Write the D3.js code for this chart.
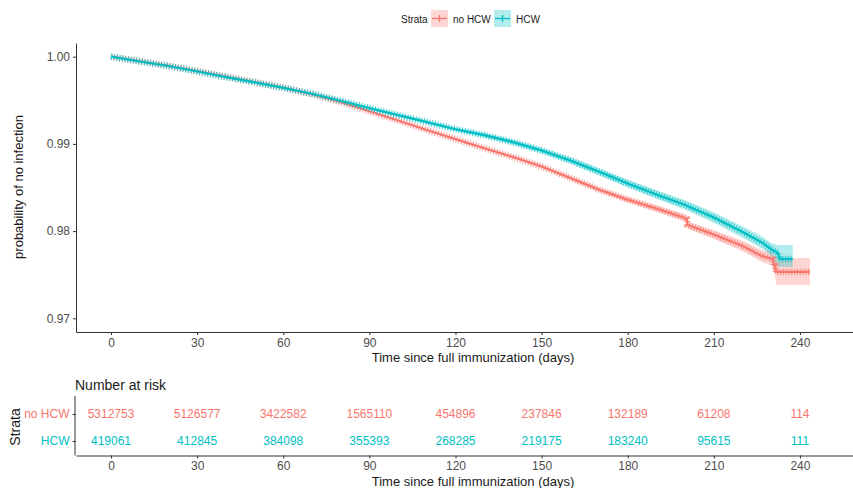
<!DOCTYPE html>
<html><head><meta charset="utf-8">
<script src="https://cdn.jsdelivr.net/npm/d3@7/dist/d3.min.js"></script>
<style>body{margin:0;background:#fff}svg{display:block;font-family:"Liberation Sans",Arial,sans-serif}</style>
</head><body>
<svg id="chart" width="853" height="488"></svg>
<script>
// ---------- data ----------
const strata = ["no HCW", "HCW"];
const strataColors = ["#F8766D", "#00BFC4"];
const xTicks = [0, 30, 60, 90, 120, 150, 180, 210, 240];
const yTicks = [0.97, 0.98, 0.99, 1.00];

const timeNoHCW  = [0, 10, 20, 30, 40, 50, 60, 70, 80, 90, 100, 110, 120, 130, 140, 150, 160, 170, 180, 190, 200, 200.6, 200.8, 210, 220, 227, 230.6, 230.9, 231.4, 231.6, 232, 243.5];
const survNoHCW  = [1.0000, 0.99948, 0.99895, 0.99835, 0.99772, 0.99710, 0.99645, 0.99570, 0.99480, 0.99375, 0.99268, 0.99160, 0.99055, 0.98950, 0.98850, 0.98740, 0.98610, 0.98475, 0.98360, 0.98260, 0.98150, 0.98140, 0.98070, 0.97960, 0.97830, 0.97710, 0.97680, 0.97600, 0.97600, 0.97532, 0.97532, 0.97532];
const lowerNoHCW = [1.0000, 0.99945, 0.99892, 0.99832, 0.99768, 0.99706, 0.99640, 0.99564, 0.99474, 0.99368, 0.99260, 0.99151, 0.99045, 0.98938, 0.98836, 0.98724, 0.98590, 0.98451, 0.98332, 0.98226, 0.98110, 0.98100, 0.98030, 0.97910, 0.97770, 0.97640, 0.97600, 0.97520, 0.97480, 0.97400, 0.97382, 0.97382];
const upperNoHCW = [1.0000, 0.99951, 0.99898, 0.99838, 0.99776, 0.99714, 0.99650, 0.99576, 0.99486, 0.99382, 0.99276, 0.99169, 0.99065, 0.98962, 0.98864, 0.98756, 0.98630, 0.98499, 0.98388, 0.98294, 0.98190, 0.98180, 0.98110, 0.98010, 0.97890, 0.97780, 0.97760, 0.97690, 0.97700, 0.97692, 0.97692, 0.97692];

const timeHCW  = [0, 10, 20, 30, 40, 50, 60, 70, 80, 90, 100, 110, 120, 130, 140, 150, 160, 170, 180, 190, 200, 210, 220, 227, 230, 232.4, 232.8, 237.5];
const survHCW  = [1.0000, 0.99945, 0.99893, 0.99830, 0.99765, 0.99705, 0.99643, 0.99575, 0.99495, 0.99410, 0.99330, 0.99250, 0.99168, 0.99100, 0.99020, 0.98925, 0.98810, 0.98680, 0.98545, 0.98420, 0.98300, 0.98155, 0.97990, 0.97865, 0.97790, 0.97750, 0.97681, 0.97681];
const lowerHCW = [1.0000, 0.99942, 0.99889, 0.99825, 0.99759, 0.99698, 0.99635, 0.99566, 0.99484, 0.99397, 0.99315, 0.99233, 0.99148, 0.99076, 0.98993, 0.98893, 0.98774, 0.98640, 0.98500, 0.98370, 0.98245, 0.98095, 0.97925, 0.97795, 0.97715, 0.97589, 0.97589, 0.97589];
const upperHCW = [1.0000, 0.99948, 0.99897, 0.99835, 0.99771, 0.99712, 0.99651, 0.99584, 0.99506, 0.99423, 0.99345, 0.99267, 0.99188, 0.99124, 0.99047, 0.98957, 0.98846, 0.98720, 0.98590, 0.98470, 0.98355, 0.98215, 0.98055, 0.97935, 0.97865, 0.97842, 0.97842, 0.97842];

const riskNoHCW = [5312753, 5126577, 3422582, 1565110, 454896, 237846, 132189, 61208, 114];
const riskHCW   = [419061, 412845, 384098, 355393, 268285, 219175, 183240, 95615, 111];

// ---------- helpers ----------
const zip = (t, s, lo, up) => t.map((d, i) => ({t: d, s: s[i], lo: lo[i], up: up[i]}));
const curves = [zip(timeNoHCW, survNoHCW, lowerNoHCW, upperNoHCW), zip(timeHCW, survHCW, lowerHCW, upperHCW)];
const risks = [riskNoHCW, riskHCW];

const svg = d3.select("#chart");
const tickCol = "#4D4D4D", axisCol = "#333";

// ---------- main plot ----------
const x = d3.scaleLinear().domain([-12.2, 264.4]).range([76, 870]);
const y = d3.scaleLinear().domain([0.96843, 1.00157]).range([332, 43]);

const plot = svg.append("g");
const area = d3.area().x(d => x(d.t)).y0(d => y(d.lo)).y1(d => y(d.up));
const line = d3.line().x(d => x(d.t)).y(d => y(d.s));

curves.forEach((c, i) => {
  plot.append("path").attr("d", area(c)).attr("fill", strataColors[i]).attr("fill-opacity", 0.3);
});
curves.forEach((c, i) => {
  plot.append("path").attr("d", line(c)).attr("fill", "none")
    .attr("stroke", strataColors[i]).attr("stroke-width", 2.2);
  plot.append("path").attr("d", line(c)).attr("fill", "none")
    .attr("stroke", strataColors[i]).attr("stroke-width", 6.5)
    .attr("stroke-dasharray", "1.1 1.7").attr("stroke-opacity", 0.75);
});

const xAxis = svg.append("g").attr("transform", "translate(0,332)")
  .call(d3.axisBottom(x).tickValues(xTicks).tickSize(3).tickSizeOuter(0).tickPadding(3));
const yAxis = svg.append("g").attr("transform", "translate(76,0)")
  .call(d3.axisLeft(y).tickValues(yTicks).tickFormat(d3.format(".2f")).tickSize(3).tickSizeOuter(0).tickPadding(3));
[xAxis, yAxis].forEach(a => {
  a.select(".domain").attr("stroke", axisCol).attr("stroke-width", 1);
  a.selectAll(".tick line").attr("stroke", axisCol);
  a.selectAll(".tick text").attr("fill", tickCol).attr("font-size", 12).attr("font-family", "Liberation Sans, Arial, sans-serif");
});

svg.append("text").attr("x", 473).attr("y", 362).attr("text-anchor", "middle")
  .attr("font-size", 13).attr("fill", "#1a1a1a").text("Time since full immunization (days)");
svg.append("text").attr("transform", "translate(23,187) rotate(-90)").attr("text-anchor", "middle")
  .attr("font-size", 13).attr("fill", "#1a1a1a").text("probability of no infection");

// ---------- legend ----------
const leg = svg.append("g");
leg.append("text").attr("x", 401).attr("y", 23).attr("font-size", 10).attr("fill", "#1a1a1a").text("Strata");
const keyX = [431, 494], labX = [453, 516];
strata.forEach((s, i) => {
  leg.append("rect").attr("x", keyX[i]).attr("y", 10).attr("width", 17).attr("height", 17)
    .attr("fill", strataColors[i]).attr("fill-opacity", 0.3);
  leg.append("line").attr("x1", keyX[i] + 1).attr("x2", keyX[i] + 16).attr("y1", 18.5).attr("y2", 18.5)
    .attr("stroke", strataColors[i]).attr("stroke-width", 1.3);
  leg.append("line").attr("x1", keyX[i] + 8.5).attr("x2", keyX[i] + 8.5).attr("y1", 15).attr("y2", 22)
    .attr("stroke", strataColors[i]).attr("stroke-width", 1.3);
  leg.append("text").attr("x", labX[i]).attr("y", 23).attr("font-size", 10).attr("fill", "#1a1a1a").text(s);
});

// ---------- risk table ----------
const yr = d3.scalePoint().domain(["HCW", "no HCW"]).range([441, 414]);
const xr = x.copy().range([76, 870]);
const risk = svg.append("g");
svg.append("text").attr("x", 75).attr("y", 390).attr("font-size", 14).attr("fill", "#1a1a1a").text("Number at risk");
strata.forEach((s, i) => {
  risk.selectAll(null).data(risks[i]).enter().append("text")
    .attr("x", (d, j) => xr(xTicks[j])).attr("y", yr(s)).attr("dy", "0.36em")
    .attr("text-anchor", "middle").attr("font-size", 12).attr("fill", strataColors[i]).text(d => d);
});
const rx = svg.append("g").attr("transform", "translate(0,455.5)")
  .call(d3.axisBottom(xr).tickValues(xTicks).tickSize(3).tickSizeOuter(0).tickPadding(3));
const ry = svg.append("g").attr("transform", "translate(75.5,0)")
  .call(d3.axisLeft(yr).tickSize(3).tickSizeOuter(0).tickPadding(3));
ry.select(".domain").attr("d", "M-0.5,396V455.5");
[rx, ry].forEach(a => {
  a.select(".domain").attr("stroke", axisCol).attr("stroke-width", 1);
  a.selectAll(".tick line").attr("stroke", axisCol);
  a.selectAll(".tick text").attr("font-size", 12).attr("font-family", "Liberation Sans, Arial, sans-serif");
});
rx.selectAll(".tick text").attr("fill", tickCol);
ry.selectAll(".tick text").attr("fill", d => strataColors[strata.indexOf(d)]);
svg.append("text").attr("x", 473).attr("y", 486).attr("text-anchor", "middle")
  .attr("font-size", 13).attr("fill", "#1a1a1a").text("Time since full immunization (days)");
svg.append("text").attr("transform", "translate(20,427) rotate(-90)").attr("text-anchor", "middle")
  .attr("font-size", 14).attr("fill", "#1a1a1a").text("Strata");
</script>
</body></html>
